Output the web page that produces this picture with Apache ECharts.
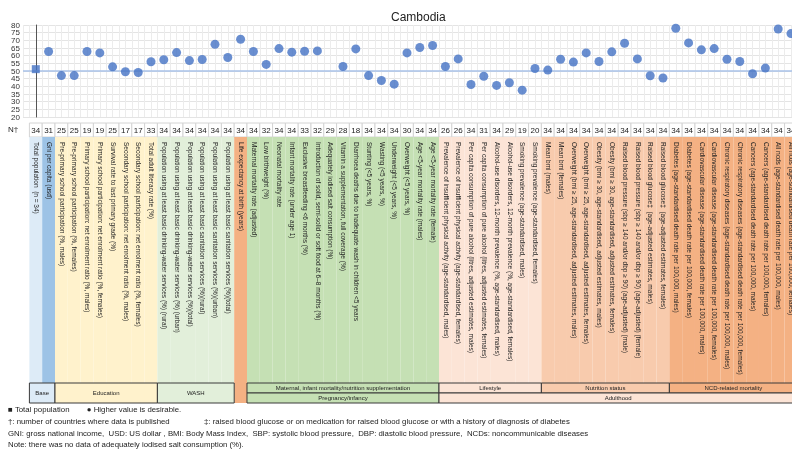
<!DOCTYPE html>
<html>
<head>
<meta charset="utf-8">
<script src="https://cdn.jsdelivr.net/npm/echarts@6/dist/echarts.min.js"></script>
<style>
  html, body { margin: 0; padding: 0; background: #fff; }
  #main { width: 792px; height: 449px; }
</style>
</head>
<body>
<div id="main"></div>
<script>
// indicator names, one per column
var columnLabels = [
  'Total population  (n = 34)',
  'Gni per capita (usd)',
  'Pre-primary school participation (%, males)',
  'Pre-primary school participation (%, females)',
  'Primary school participation: net enrolment ratio (%, males)',
  'Primary school participation: net enrolment ratio (%, females)',
  'Survival rate to last primary grade (%)',
  'Secondary school participation: net enrolment ratio (%, males)',
  'Secondary school participation: net enrolment ratio (%, females)',
  'Total adult literacy rate (%)',
  'Population using at least basic drinking-water services (%) (rural)',
  'Population using at least basic drinking-water services (%) (urban)',
  'Population using at least basic drinking-water services (%)(total)',
  'Population using at least basic sanitation services (%)(rural)',
  'Population using at least basic sanitation services (%)(urban)',
  'Population using at least basic sanitation services (%)(total)',
  'Life expectancy at birth (years)',
  'Maternal mortality rate (adjusted)',
  'Low birthweight (%)',
  'Neonatal mortality rate',
  'Infant mortality rate (under age 1)',
  'Exclusive breastfeeding <6 months (%)',
  'Introduction of solid, semi-solid or soft food at 6–8 months (%)',
  'Adequately iodised salt consumption (%)',
  'Vitamin a supplementation, full coverage (%)',
  'Diarrhoea deaths due to inadequate wash in children <5 years',
  'Stunting (<5 years, %)',
  'Wasting (<5 years, %)',
  'Underweight (<5 years, %)',
  'Overweight (<5 years, %)',
  'Age <5-year mortality rate (males)',
  'Age <5-year mortality rate (female)',
  'Prevalence of insufficient physical activity (age-standardised, males)',
  'Prevalence of insufficient physical activity (age-standardised, females)',
  'Per capita consumption of pure alcohol (litres, adjusted estimates, males)',
  'Per capita consumption of pure alcohol (litres, adjusted estimates, females)',
  'Alcohol-use disorders, 12-month prevalence (%, age-standardised, males)',
  'Alcohol-use disorders, 12-month prevalence (%, age-standardised, females)',
  'Smoking prevalence (age-standardised, males)',
  'Smoking prevalence (age-standardised, females)',
  'Mean bmi (males)',
  'Mean bmi (females)',
  'Overweight (bmi ≥ 25, age-standardised, adjusted estimates, males)',
  'Overweight (bmi ≥ 25, age-standardised, adjusted estimates, females)',
  'Obesity (bmi ≥ 30, age-standardised, adjusted estimates, males)',
  'Obesity (bmi ≥ 30, age-standardised, adjusted estimates, females)',
  'Raised blood pressure (sbp ≥ 140 and/or dbp ≥ 90) (age-adjusted) (male)',
  'Raised blood pressure (sbp ≥ 140 and/or dbp ≥ 90) (age-adjusted) (female)',
  'Raised blood glucose‡  (age-adjusted estimates, males)',
  'Raised blood glucose‡  (age-adjusted estimates, females)',
  'Diabetes (age-standardised death rate per 100,000, males)',
  'Diabetes (age-standardised death rate per 100,000, females)',
  'Cardiovascular disease (age-standardised death rate per 100,000, males)',
  'Cardiovascular disease (age-standardised death rate per 100,000, females)',
  'Chronic respiratory diseases (age-standardised death rate per 100,000, males)',
  'Chronic respiratory diseases (age-standardised death rate per 100,000, females)',
  'Cancers (age-standardised death rate per 100,000, males)',
  'Cancers (age-standardised death rate per 100,000, females)',
  'All ncds (age-standardised death rate per 100,000, males)',
  'All ncds (age-standardised death rate per 100,000, females)'
];

// N†: number of countries where data is published
var nCountries = [34, 31, 25, 25, 19, 19, 25, 17, 17, 33,
  34, 34, 34, 34, 34, 34,
  34,
  34, 32, 34, 34, 33, 32, 29, 28, 18, 34, 34, 34, 30, 34, 34,
  26, 26, 34, 31, 34, 29, 19, 20,
  34, 34, 34, 34, 34, 34, 34, 34, 34, 34,
  34, 34, 34, 34, 34, 34, 34, 34, 34, 34];

// scores (null = no data)
var scores = [51.2, 62.7, 47.0, 47.0, 62.7, 61.8, 52.7, 49.5, 49.0, 56.0,
  57.3, 62.0, 56.8, 57.5, 67.4, 58.8,
  70.7,
  62.7, 54.3, 64.6, 62.3, 62.9, 63.1, null, 52.9, 64.4, 47.0, 43.8, 41.4, 61.8, 65.3, 66.6,
  52.9, 57.9, 41.2, 46.6, 40.6, 42.3, 37.5, 51.6,
  50.6, 57.7, 55.8, 61.8, 56.2, 62.5, 68.1, 57.9, 46.9, 45.4,
  77.9, 68.3, 63.8, 64.6, 57.7, 56.2, 48.2, 51.9, 77.4, 74.4];

// which colour band each column belongs to
var columnGroup = [0, 1, 2, 2, 2, 2, 2, 2, 2, 2,
  3, 3, 3, 3, 3, 3,
  4,
  5, 5, 5, 5, 5, 5, 5, 5, 5, 5, 5, 5, 5, 5, 5,
  6, 6, 6, 6, 6, 6, 6, 6,
  7, 7, 7, 7, 7, 7, 7, 7, 7, 7,
  8, 8, 8, 8, 8, 8, 8, 8, 8, 8];

// category boxes under the columns: [from column, to column, row, row span]
var boxNames = ['Base', 'Education', 'WASH',
  'Maternal, infant mortality/nutrition supplementation', 'Pregnancy/infancy',
  'Lifestyle', 'Nutrition status', 'NCD-related mortality', 'Adulthood'];
var boxRanges = [[0, 1, 0, 2], [2, 9, 0, 2], [10, 15, 0, 2],
  [17, 31, 0, 1], [17, 31, 1, 1],
  [32, 39, 0, 1], [40, 49, 0, 1], [50, 59, 0, 1], [32, 59, 1, 1]];

// y axis tick labels
var yTickLabels = [20, 25, 30, 35, 40, 45, 50, 55, 60, 65, 70, 75, 80];

var bandColors = ['#ddebf7', '#9dc3e6', '#fff2cc', '#e2efda', '#f4b183',
  '#c5e0b4', '#fce4d6', '#f8cbad', '#f4b183'];
var boxColors = ['#ddebf7', '#fff2cc', '#e2efda', '#c5e0b4', '#c5e0b4',
  '#fce4d6', '#f8cbad', '#f4b183', '#fce4d6'];

var NARROW = '"Liberation Sans Narrow", "Liberation Sans", Arial, sans-serif';
var DOT = '#4472c4';

var chart = echarts.init(document.getElementById('main'));

var xMin = -1, xMax = 59.08;
var headH = 14, bandH = 246, rowH = 10;

var option = {
  animation: false,
  title: {
    text: 'Cambodia',
    left: 386,
    top: 7,
    textStyle: { fontSize: 12, fontWeight: 'normal', color: '#222', fontFamily: 'Liberation Sans' }
  },
  grid: [
    { left: 23, right: 0, top: 25, height: 92 },
    { left: 23, right: 0, top: 123, bottom: 46 }
  ],
  xAxis: [
    {
      type: 'value', gridIndex: 0, min: xMin, max: xMax, interval: 0.5,
      axisLine: { show: false }, axisTick: { show: false }, axisLabel: { show: false },
      splitLine: { show: true, lineStyle: { color: '#ececec', width: 1 } }
    },
    {
      type: 'value', gridIndex: 1, min: xMin, max: xMax, show: false
    }
  ],
  yAxis: [
    {
      type: 'value', gridIndex: 0,
      min: yTickLabels[0], max: yTickLabels[yTickLabels.length - 1], interval: 5,
      axisLine: { show: true, lineStyle: { color: '#555', width: 1 } },
      axisTick: { show: false },
      axisLabel: { show: false },
      splitLine: { show: true, lineStyle: { color: '#e4e4e4' } }
    },
    { type: 'value', gridIndex: 1, min: 0, max: 1, show: false }
  ],
  series: [
    {
      // y tick labels placed through the y scale
      type: 'custom',
      xAxisIndex: 0, yAxisIndex: 0,
      silent: true,
      clip: false,
      data: yTickLabels.map(function (v) { return [xMin, v]; }),
      renderItem: function (params, api) {
        var p = api.coord([api.value(0), api.value(1)]);
        return {
          type: 'text', x: p[0] - 3, y: p[1] + 0.5,
          style: { text: String(yTickLabels[params.dataIndex]), textAlign: 'right', textVerticalAlign: 'middle',
            fontSize: 8, fontFamily: NARROW, fill: '#333' }
        };
      }
    },
    {
      // column header cells, colour bands and rotated labels
      type: 'custom',
      xAxisIndex: 1, yAxisIndex: 1,
      silent: true,
      data: columnLabels.map(function (l, i) { return [i, nCountries[i]]; }),
      renderItem: function (params, api) {
        var i = params.dataIndex;
        var cx = api.coord([i, 0])[0];
        var w = api.size([1, 0])[0];
        var top = params.coordSys.y;
        var g = columnGroup[i];
        var h = g === 4 ? bandH + rowH * 2 : bandH;
        return {
          type: 'group',
          children: [
            { type: 'rect', shape: { x: cx - w / 2, y: top, width: w, height: headH },
              style: { fill: '#fff', stroke: '#d4d4d4', lineWidth: 1 } },
            { type: 'text', x: cx, y: top + headH / 2 + 0.5,
              style: { text: String(nCountries[i]), textAlign: 'center', textVerticalAlign: 'middle',
                fontSize: 8, fontFamily: NARROW, fill: '#222' } },
            { type: 'rect', shape: { x: cx - w / 2, y: top + headH, width: w, height: h },
              style: { fill: bandColors[g] } },
            { type: 'text', x: cx, y: top + headH + 5, rotation: -Math.PI / 2,
              style: { text: columnLabels[i], textAlign: 'left', textVerticalAlign: 'middle',
                fontSize: 6.5, fontFamily: NARROW, fill: '#222' } }
          ]
        };
      },
      z: 1
    },
    {
      // category boxes below the columns
      type: 'custom',
      xAxisIndex: 1, yAxisIndex: 1,
      silent: true,
      data: boxRanges,
      renderItem: function (params, api) {
        var k = params.dataIndex;
        var r = boxRanges[k];
        var x0 = api.coord([r[0] - 0.5, 0])[0];
        var x1 = api.coord([r[1] + 0.5, 0])[0];
        var y0 = params.coordSys.y + headH + bandH + r[2] * rowH;
        var h = r[3] * rowH;
        return {
          type: 'group',
          children: [
            { type: 'rect', shape: { x: x0, y: y0, width: x1 - x0, height: h },
              style: { fill: boxColors[k], stroke: '#3a3a3a', lineWidth: 1 } },
            { type: 'text', x: (x0 + x1) / 2, y: y0 + h / 2 + 0.5,
              style: { text: boxNames[k], textAlign: 'center', textVerticalAlign: 'middle',
                fontSize: 6, fontFamily: NARROW, fill: '#222' } }
          ]
        };
      },
      z: 2
    },
    {
      name: 'Total population',
      type: 'scatter',
      symbol: 'rect',
      symbolSize: 8,
      itemStyle: { color: DOT },
      data: [[0, scores[0]]],
      markLine: {
        silent: true,
        symbol: 'none',
        label: { show: false },
        lineStyle: { color: '#a8c2e8', width: 1.5, type: 'solid' },
        data: [{ yAxis: 50 }]
      },
      z: 5
    },
    {
      name: 'Higher value is desirable',
      type: 'scatter',
      symbol: 'circle',
      symbolSize: 9,
      itemStyle: { color: DOT },
      data: scores.map(function (v, i) { return i === 0 || v === null ? null : [i, v]; })
        .filter(function (d) { return d !== null; }),
      z: 6
    }
  ],
  graphic: [
    { type: 'text', x: 8, y: 130, style: { text: 'N†', fontSize: 8, fontFamily: NARROW, fill: '#222', textVerticalAlign: 'middle' } },
    { type: 'text', x: 8, y: 410, style: { text: '■ Total population        ● Higher value is desirable.', fontSize: 7.8, fontFamily: NARROW, fill: '#222', textVerticalAlign: 'middle' } },
    { type: 'text', x: 8, y: 422, style: { text: '†: number of countries where data is published', fontSize: 7.8, fontFamily: NARROW, fill: '#222', textVerticalAlign: 'middle' } },
    { type: 'text', x: 204, y: 422, style: { text: '‡: raised blood glucose or on medication for raised blood glucose or with a history of diagnosis of diabetes', fontSize: 7.8, fontFamily: NARROW, fill: '#222', textVerticalAlign: 'middle' } },
    { type: 'text', x: 8, y: 434, style: { text: 'GNI: gross national income,  USD: US dollar , BMI: Body Mass Index,  SBP: systolic blood pressure,  DBP: diastolic blood pressure,  NCDs: noncommunicable diseases', fontSize: 7.8, fontFamily: NARROW, fill: '#222', textVerticalAlign: 'middle' } },
    { type: 'text', x: 8, y: 445, style: { text: 'Note: there was no data of adequately iodised salt consumption (%).', fontSize: 7.8, fontFamily: NARROW, fill: '#222', textVerticalAlign: 'middle' } }
  ]
};

chart.setOption(option);
window.onresize = function () {
  chart.resize();
};
</script>
</body>
</html>
